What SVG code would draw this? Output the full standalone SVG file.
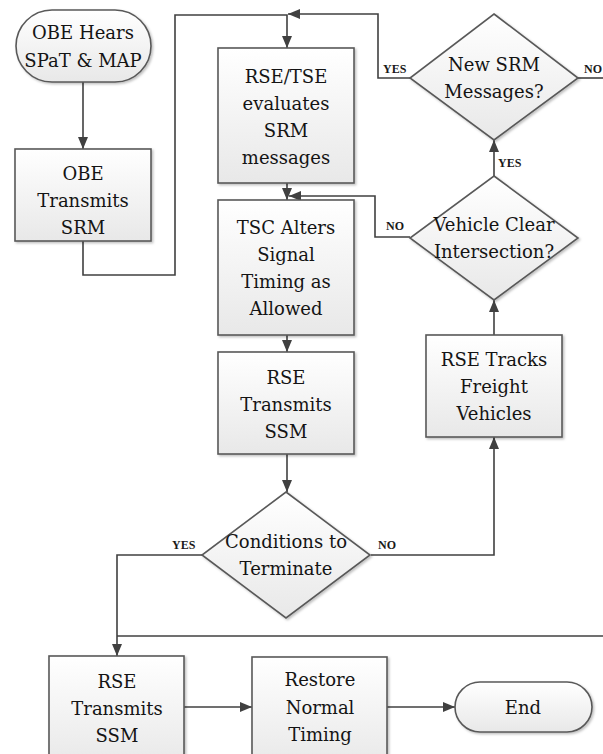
<svg xmlns="http://www.w3.org/2000/svg" width="603" height="754" viewBox="0 0 603 754">
<style>
.shape{fill:url(#g);stroke:#595959;stroke-width:1.6;filter:url(#sh)}
.t{font-family:"DejaVu Serif","Liberation Serif",serif;font-size:18px;fill:#141414;text-anchor:middle}
.lbl{font-family:"Liberation Serif","DejaVu Serif",serif;font-size:12px;font-weight:bold;fill:#1a1a1a}
.c{fill:none;stroke:#404040;stroke-width:1.6}
.a{marker-end:url(#ah)}
</style>
<defs>
<linearGradient id="g" x1="0" y1="0" x2="0" y2="1">
<stop offset="0" stop-color="#ffffff"/>
<stop offset="1" stop-color="#e8e8e8"/>
</linearGradient>
<filter id="sh" x="-10%" y="-10%" width="130%" height="130%">
<feDropShadow dx="1.5" dy="1.5" stdDeviation="1" flood-color="#000" flood-opacity="0.25"/>
</filter>
<marker id="ah" markerUnits="userSpaceOnUse" markerWidth="12" markerHeight="10" refX="12" refY="5" orient="auto">
<path d="M0,0 L12,5 L0,10 z" fill="#404040"/>
</marker>
</defs>

<g id="connectors">
<path class="c a" d="M83,82 V149"/>
<path class="c a" d="M83,241 V275 H175 V15 H287 V48"/>
<path class="c a" d="M410,78 H378 V14 H288"/>
<path class="c a" d="M287,183 V200"/>
<path class="c a" d="M410,237 H375 V196 H289"/>
<path class="c a" d="M287,335 V352"/>
<path class="c a" d="M287,454 V492"/>
<path class="c a" d="M202,555 H117 V656"/>
<path class="c a" d="M371,555 H494 V437"/>
<path class="c a" d="M494,335 V300"/>
<path class="c a" d="M494,176 V140"/>
<path class="c" d="M578,78 H603"/>
<path class="c" d="M117,636 H603"/>
<path class="c a" d="M184,707 H252"/>
<path class="c a" d="M387,707 H455"/>
<text class="lbl" x="383" y="73">YES</text>
<text class="lbl" x="584" y="73">NO</text>
<text class="lbl" x="498" y="167">YES</text>
<text class="lbl" x="386" y="230">NO</text>
<text class="lbl" x="172" y="549">YES</text>
<text class="lbl" x="378" y="549">NO</text>
</g>

<g id="start">
<rect class="shape" x="16" y="10" width="135" height="72" rx="36" ry="36"/>
<text class="t" x="83" y="39">OBE Hears</text>
<text class="t" x="83" y="67">SPaT &amp; MAP</text>
</g>

<g id="obe-transmits">
<rect class="shape" x="15" y="149" width="136" height="92"/>
<text class="t" x="83" y="180">OBE</text>
<text class="t" x="83" y="207">Transmits</text>
<text class="t" x="83" y="234">SRM</text>
</g>

<g id="rse-tse">
<rect class="shape" x="218" y="48" width="136" height="135"/>
<text class="t" x="286" y="83">RSE/TSE</text>
<text class="t" x="286" y="110">evaluates</text>
<text class="t" x="286" y="137">SRM</text>
<text class="t" x="286" y="164">messages</text>
</g>

<g id="tsc">
<rect class="shape" x="218" y="200" width="136" height="135"/>
<text class="t" x="286" y="234">TSC Alters</text>
<text class="t" x="286" y="261">Signal</text>
<text class="t" x="286" y="288">Timing as</text>
<text class="t" x="286" y="315">Allowed</text>
</g>

<g id="rse-ssm">
<rect class="shape" x="218" y="352" width="136" height="102"/>
<text class="t" x="286" y="384">RSE</text>
<text class="t" x="286" y="411">Transmits</text>
<text class="t" x="286" y="438">SSM</text>
</g>

<g id="conditions">
<polygon class="shape" points="286,492 370,555 286,618 202,555"/>
<text class="t" x="286" y="548">Conditions to</text>
<text class="t" x="286" y="575">Terminate</text>
</g>

<g id="rse-tracks">
<rect class="shape" x="426" y="335" width="136" height="102"/>
<text class="t" x="494" y="366">RSE Tracks</text>
<text class="t" x="494" y="393">Freight</text>
<text class="t" x="494" y="420">Vehicles</text>
</g>

<g id="vehicle-clear">
<polygon class="shape" points="494,176 578,238 494,300 410,238"/>
<text class="t" x="494" y="231">Vehicle Clear</text>
<text class="t" x="494" y="258">Intersection?</text>
</g>

<g id="new-srm">
<polygon class="shape" points="494,14 578,78 494,140 410,78"/>
<text class="t" x="494" y="71">New SRM</text>
<text class="t" x="494" y="98">Messages?</text>
</g>

<g id="rse-ssm-2">
<rect class="shape" x="49" y="656" width="135" height="110"/>
<text class="t" x="117" y="688">RSE</text>
<text class="t" x="117" y="715">Transmits</text>
<text class="t" x="117" y="742">SSM</text>
</g>

<g id="restore">
<rect class="shape" x="252" y="657" width="135" height="110"/>
<text class="t" x="320" y="686">Restore</text>
<text class="t" x="320" y="714">Normal</text>
<text class="t" x="320" y="741">Timing</text>
</g>

<g id="end">
<rect class="shape" x="455" y="682" width="137" height="50" rx="25" ry="25"/>
<text class="t" x="523" y="714">End</text>
</g>
</svg>
